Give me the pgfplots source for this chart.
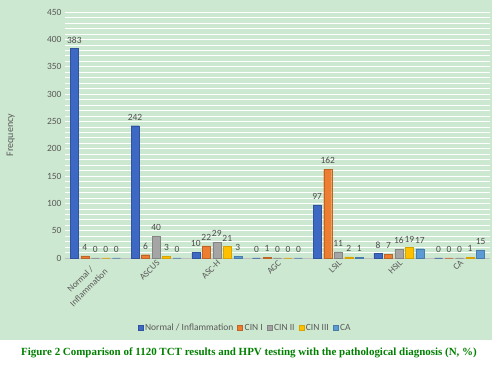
\documentclass[border=0pt]{standalone}
\usepackage{pgfplots}
\pgfplotsset{compat=1.18}
\usepackage{fontspec}
\setmainfont{Carlito}
\newfontfamily\capfont{Liberation Serif}
\definecolor{bggreen}{RGB}{205,232,208}
\definecolor{cnorm}{RGB}{61,104,196}
\definecolor{ccin1}{RGB}{237,125,49}
\definecolor{ccin2}{RGB}{165,165,165}
\definecolor{ccin3}{RGB}{255,192,0}
\definecolor{cca}{RGB}{91,155,213}
\definecolor{txtgray}{RGB}{89,89,89}
\definecolor{capgreen}{RGB}{0,128,0}
\begin{document}
\begin{tikzpicture}
\useasboundingbox (0,0) rectangle (504bp,376bp);
\fill[bggreen] (0,36bp) rectangle (492bp,376bp);
\begin{axis}[
  at={(65bp,118bp)}, anchor=south west,
  scale only axis, width=425bp, height=246bp,
  ybar=2.5bp, bar width=8bp,
  xmin=-0.5, xmax=6.5, ymin=0, ymax=450,
  xtick={0,...,6},
  xticklabels={{Normal /\\Inflammation},ASCUS,ASC-H,AGC,LSIL,HSIL,CA},
  xticklabel style={rotate=45, anchor=north east, align=center, font=\fontsize{9}{12}\selectfont, text=txtgray, inner sep=1pt},
  ytick={0,50,...,450},
  minor y tick num=4,
  yticklabel style={font=\fontsize{9.5}{11}\selectfont, text=txtgray},
  /pgf/number format/assume math mode=true,
  major tick length=0, minor tick length=0,
  ymajorgrids, yminorgrids,
  major grid style={white, line width=0.9pt},
  minor grid style={white, line width=0.6pt},
  axis x line*=bottom, axis y line*=left,
  x axis line style={draw=black!25, line width=0.6pt},
  y axis line style={draw=none},
  ylabel={Frequency},
  ylabel style={at={(axis description cs:-0.11,0.5)}, font=\fontsize{10}{12}\selectfont, text=txtgray},
  nodes near coords,
  every node near coord/.append style={font=\fontsize{9.5}{11}\selectfont, text=black!70, yshift=2pt},
  legend columns=-1,
  legend style={at={(0.424,-0.285)}, anchor=center, draw=none, fill=none, font=\fontsize{9.5}{11}\selectfont, text=txtgray, /tikz/every even column/.append style={column sep=2pt}},
  legend image code/.code={\fill[#1] (0pt,-2.5pt) rectangle (5pt,2.5pt);},
  clip=false,
]
\addplot[fill=cnorm, draw=cnorm!80!black] coordinates {(0,383) (1,242) (2,10) (3,0) (4,97) (5,8) (6,0)};
\addplot[fill=ccin1, draw=ccin1!80!black] coordinates {(0,4) (1,6) (2,22) (3,1) (4,162) (5,7) (6,0)};
\addplot[fill=ccin2, draw=ccin2!80!black] coordinates {(0,0) (1,40) (2,29) (3,0) (4,11) (5,16) (6,0)};
\addplot[fill=ccin3, draw=ccin3!85!black] coordinates {(0,0) (1,3) (2,21) (3,0) (4,2) (5,19) (6,1)};
\addplot[fill=cca, draw=cca!80!black] coordinates {(0,0) (1,0) (2,3) (3,0) (4,1) (5,17) (6,15)};
\legend{Normal / Inflammation, CIN I, CIN II, CIN III, CA}
\end{axis}
\node[font=\capfont\bfseries\fontsize{11}{13}\selectfont, text=capgreen] at (249bp,23bp) {Figure 2 Comparison of 1120 TCT results and HPV testing with the pathological diagnosis (N, \%)};
\end{tikzpicture}
\end{document}
